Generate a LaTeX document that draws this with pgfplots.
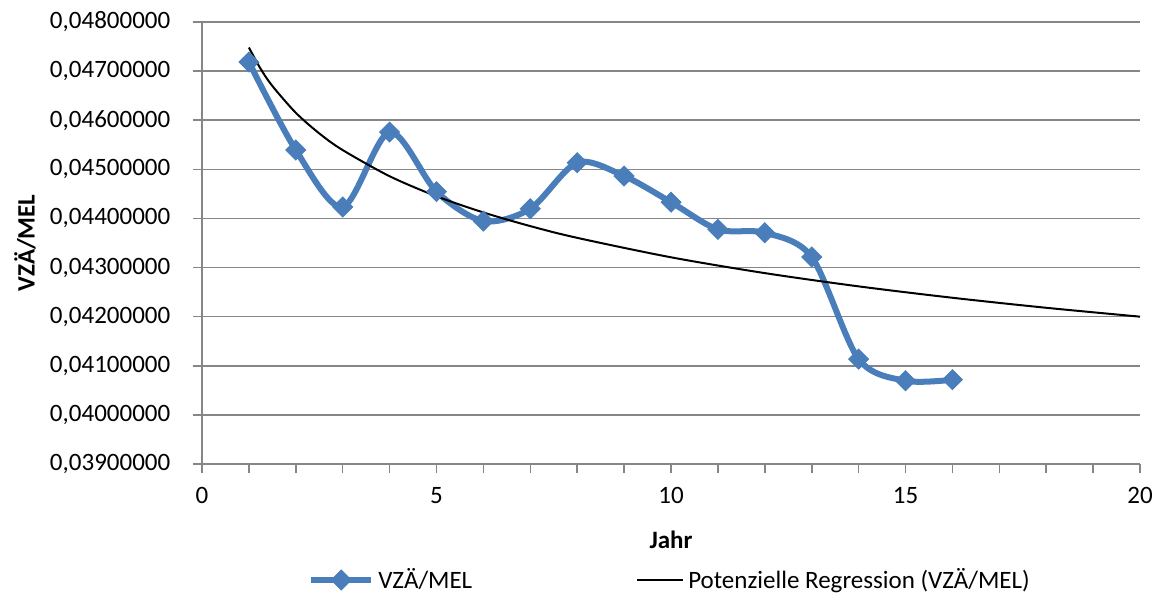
\documentclass[border=0pt]{standalone}
\usepackage{pgfplots}
\pgfplotsset{compat=1.18}
\usepackage{fontspec}
\setmainfont{Carlito}
\definecolor{serieblau}{RGB}{74,126,187}
\definecolor{rastergrau}{RGB}{134,134,134}
\pgfplotsset{
  serieleg/.style={legend image code/.code={\draw[##1, mark repeat=2, mark phase=2] plot coordinates {(0pt,0pt) (15pt,0pt) (30pt,0pt)};}},
  trendleg/.style={legend image code/.code={\draw[##1] (0pt,0pt) -- (23pt,0pt);}},
}

\begin{document}
\fontsize{12.5}{15}\selectfont
\begin{tikzpicture}
\useasboundingbox (-101pt,-67pt) rectangle (479pt,232pt);
\begin{axis}[
  scale only axis, width=469pt, height=221pt,
  xmin=0, xmax=20, ymin=0.039, ymax=0.048,
  axis x line=bottom, axis y line=left,
  axis line style={-, draw=rastergrau, line width=0.8pt},
  xtick={0,5,10,15,20}, minor x tick num=4,
  ytick={0.039,0.040,0.041,0.042,0.043,0.044,0.045,0.046,0.047,0.048},
  ymajorgrids, grid style={rastergrau, line width=0.8pt},
  tick style={rastergrau, line width=0.8pt},
  tick align=outside, major tick length=4.5pt, minor tick length=4.5pt,
  scaled y ticks=false,
  yticklabel style={xshift=-7pt, /pgf/number format/.cd, fixed, fixed zerofill, precision=8, use comma, assume math mode=true},
  xticklabel style={yshift=-3pt, /pgf/number format/assume math mode=true},
  xlabel={\textbf{Jahr}},
  xlabel style={at={(axis description cs:0.5,0)}, anchor=center, yshift=-38pt},
  ylabel={\textbf{VZÄ/MEL}},
  ylabel style={at={(axis description cs:-0.1887,0.5)}, anchor=center},
  legend style={at={(axis description cs:0.5,-0.2624)}, anchor=center, draw=none,
    legend columns=2, /tikz/every even column/.append style={column sep=80pt}},
]
\addplot[serieblau, line width=3pt, smooth, tension=0.5,
  mark=square*, mark size=3.5pt,
  mark options={rotate=45, solid, fill=serieblau, draw=serieblau, line width=0.5pt},
  serieleg]
coordinates {
  (1,0.047185) (2,0.045393) (3,0.044232) (4,0.045760) (5,0.044546)
  (6,0.043947) (7,0.044198) (8,0.045136) (9,0.044864) (10,0.044332)
  (11,0.043776) (12,0.043709) (13,0.043216) (14,0.041136) (15,0.040695)
  (16,0.040716)
};
\addlegendentry{VZÄ/MEL}
% power trend line y = a x^b, evaluated at selected years
\addplot[black, line width=1pt, smooth, no marks, trendleg]
coordinates {
  (1,0.047480) (1.25,0.047048) (1.5,0.046698) (2,0.046152) (2.5,0.045732)
  (3,0.045392) (4,0.044860) (5,0.044452) (6,0.044122) (7,0.043844)
  (8,0.043605) (10,0.043209) (12,0.042887) (14,0.042617) (16,0.042385)
  (18,0.042181) (20,0.042000)
};
\addlegendentry{Potenzielle Regression (VZÄ/MEL)}
\end{axis}
\end{tikzpicture}
\end{document}
